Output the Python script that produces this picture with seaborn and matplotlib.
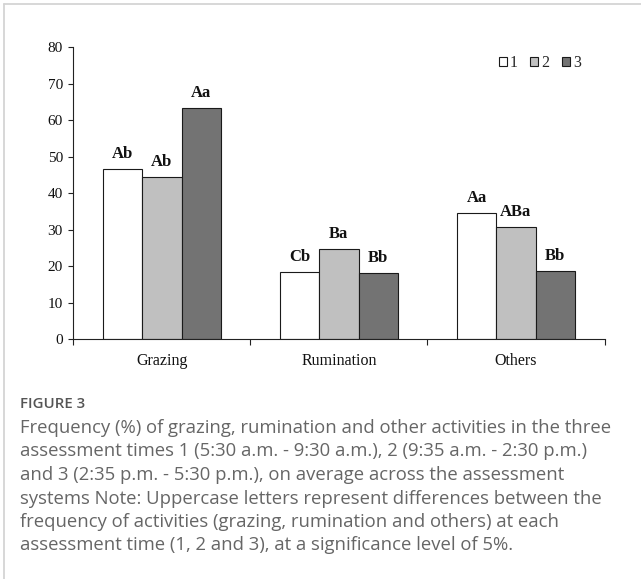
import matplotlib
matplotlib.use("Agg")
import matplotlib.pyplot as plt
from matplotlib.lines import Line2D
import seaborn as sns
import pandas as pd

# Activity categories and the three assessment times
activities = ["Grazing", "Rumination", "Others"]
times = ["1", "2", "3"]

# Frequency (%) per assessment time, in the order of `activities`
freq_time1 = [46.7, 18.5, 34.7]
freq_time2 = [44.6, 24.7, 30.8]
freq_time3 = [63.3, 18.2, 18.6]

# Significance letters per assessment time
letters_time1 = ["Ab", "Cb", "Aa"]
letters_time2 = ["Ab", "Ba", "ABa"]
letters_time3 = ["Aa", "Bb", "Bb"]

y_ticks = [0, 10, 20, 30, 40, 50, 60, 70, 80]

df = pd.DataFrame({
    "activity": activities * 3,
    "time": [t for t in times for _ in activities],
    "freq": freq_time1 + freq_time2 + freq_time3,
})

sns.set_theme(style="white")
plt.rcParams["font.family"] = ["Liberation Serif", "DejaVu Serif"]

W, H = 641, 579
fig = plt.figure(figsize=(W / 100, H / 100), dpi=100)
fig.patch.set_facecolor("white")

# axes placed in pixel terms
left, right, top, bottom = 73.3, 604.5, 47.3, 339.3
ax = fig.add_axes([left / W, 1 - bottom / H, (right - left) / W, (bottom - top) / H])

palette = {"1": "#ffffff", "2": "#c0c0c0", "3": "#737373"}
sns.barplot(data=df, x="activity", y="freq", hue="time", order=activities,
            hue_order=times, palette=palette, width=0.667, saturation=1,
            edgecolor="#1a1a1a", linewidth=0.8, errorbar=None, ax=ax)

for cont, labs in zip(ax.containers, [letters_time1, letters_time2, letters_time3]):
    ax.bar_label(cont, labels=labs, padding=5, fontsize=12, fontweight="bold",
                 color="#111111")

ax.set_xlim(-0.5, 2.5)
ax.set_ylim(0, 80)
ax.set_yticks(y_ticks)
ax.set_yticklabels([str(v) for v in y_ticks], fontsize=11, color="#111111")
ax.set_xticks([0, 1, 2])
ax.set_xticklabels(activities, fontsize=11.5, color="#111111")
ax.tick_params(axis="x", length=0, pad=10)
ax.set_xticks([-0.5, 0.5, 1.5, 2.5], minor=True)
ax.tick_params(axis="x", which="minor", direction="out", length=4.5,
               width=0.8, color="#222222", bottom=True)
ax.tick_params(axis="y", direction="out", length=3.5, width=0.8,
               color="#222222", left=True, pad=4)
ax.set_xlabel("")
ax.set_ylabel("")
for s in ["top", "right"]:
    ax.spines[s].set_visible(False)
for s in ["left", "bottom"]:
    ax.spines[s].set_color("#222222")
    ax.spines[s].set_linewidth(0.8)

handles, labels = ax.get_legend_handles_labels()
ax.legend(handles, labels, loc="upper right", bbox_to_anchor=(581 / W, 1 - 55 / H),
          bbox_transform=fig.transFigure, ncol=3, frameon=False, fontsize=11.5,
          handlelength=0.5, handleheight=0.5, handletextpad=0.2,
          columnspacing=0.78, borderpad=0, borderaxespad=0)

# light frame around the panel
frame_kw = dict(color="#d4d4d4", linewidth=1.3, transform=fig.transFigure)
fig.add_artist(Line2D([4 / W, 1], [1 - 4 / H, 1 - 4 / H], **frame_kw))
fig.add_artist(Line2D([4 / W, 4 / W], [0, 1 - 4 / H], **frame_kw))

# caption
cap_font = ["Open Sans", "DejaVu Sans"]
fig.text(20 / W, 1 - 404 / H, "FIGURE 3", fontsize=10.8, family=cap_font,
         color="#555555", va="center", ha="left", fontweight="semibold")
caption_lines = [
    "Frequency (%) of grazing, rumination and other activities in the three",
    "assessment times 1 (5:30 a.m. - 9:30 a.m.), 2 (9:35 a.m. - 2:30 p.m.)",
    "and 3 (2:35 p.m. - 5:30 p.m.), on average across the assessment",
    "systems Note: Uppercase letters represent differences between the",
    "frequency of activities (grazing, rumination and others) at each",
    "assessment time (1, 2 and 3), at a significance level of 5%.",
]
for i, line in enumerate(caption_lines):
    y = 428 + i * 23.5
    fig.text(20 / W, 1 - y / H, line, fontsize=13.3, family=cap_font,
             color="#666666", va="center", ha="left")

fig.savefig("out.png", dpi=100, facecolor="white")
